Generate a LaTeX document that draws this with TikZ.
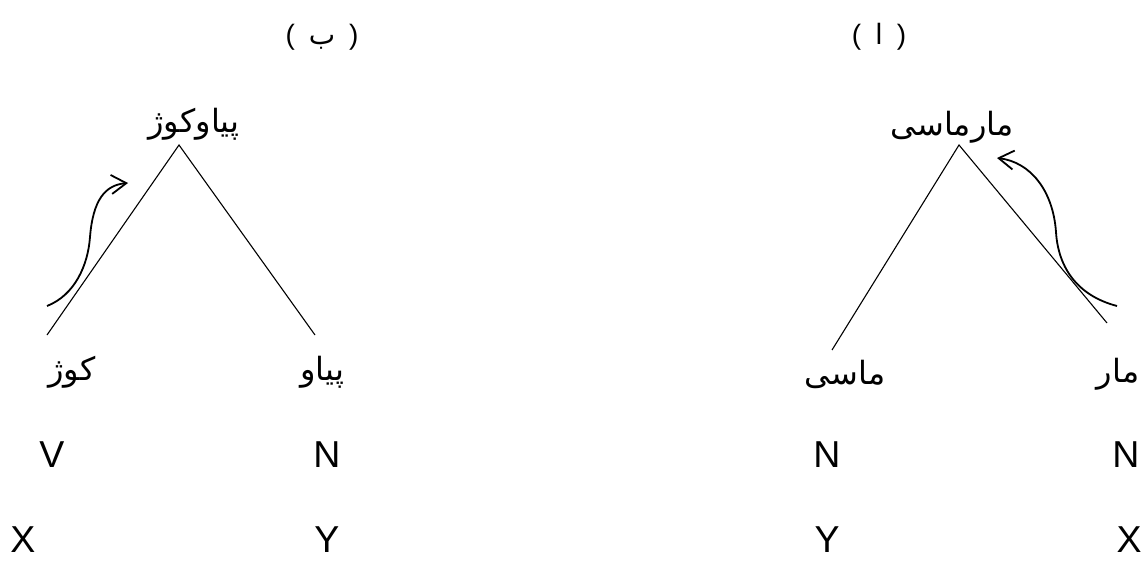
\documentclass[tikz,border=0pt]{standalone}
\usepackage{fontspec}
\setmainfont{Liberation Sans}
\newfontfamily\arabicfont[Script=Arabic]{DejaVu Sans}
\TeXXeTstate=1
\usetikzlibrary{arrows.meta}
\newcommand\rtltext[1]{\beginR #1\endR}
\tikzset{
  lat/.style={inner sep=0pt, font=\fontsize{37.5}{40}\selectfont},
  arw/.style={inner sep=0pt, font=\arabicfont\fontsize{32}{36}\selectfont},
  head/.style={inner sep=0pt, font=\fontsize{28}{32}\selectfont},
  branch/.style={line width=1.1pt},
  movearrow/.style={line width=1.8pt, -{Straight Barb[length=15pt,width=19pt,line width=1.8pt]}},
}
\begin{document}
\begin{tikzpicture}[x=1pt,y=-1pt]
\useasboundingbox (0,0) rectangle (1145,561);
% headings
\node[head] (hb) at (322,37) {(\hspace{0.5em}{\arabicfont ب}\hspace{0.5em})};
\node[head] (ha) at (879,37) {(\hspace{0.5em}{\arabicfont ا}\hspace{0.5em})};
% left tree (b)
\node[arw] (lroot) at (194,124) {\rtltext{پیاوکوژ}};
\coordinate (lapex) at (179,145);
\coordinate (lleft) at (47,335);
\coordinate (lright) at (315,335);
\draw[branch] (lleft) -- (lapex) -- (lright);
\node[arw] (lw1) at (72,372) {\rtltext{کوژ}};
\node[arw] (lw2) at (322,372) {\rtltext{پیاو}};
\node[lat] (lc1) at (52,455) {V};
\node[lat] (lc2) at (327,455) {N};
\node[lat] (lv1) at (23,540) {X};
\node[lat] (lv2) at (327,540) {Y};
\coordinate (ltail) at (47,306);
\coordinate (lmid) at (90,237);
\coordinate (ltip) at (128,183);
\draw[movearrow] (ltail) .. controls (75,295) and (88,265) .. (lmid)
  .. controls (93,200) and (105,185) .. (ltip);
% right tree (a)
\node[arw] (rroot) at (952,127) {\rtltext{مارماسی}};
\coordinate (rapex) at (959,145);
\coordinate (rleft) at (832,350);
\coordinate (rright) at (1107,323);
\draw[branch] (rleft) -- (rapex) -- (rright);
\node[arw] (rw1) at (845,374) {\rtltext{ماسی}};
\node[arw] (rw2) at (1118,374) {\rtltext{مار}};
\node[lat] (rc1) at (827,455) {N};
\node[lat] (rc2) at (1126,455) {N};
\node[lat] (rv1) at (827,540) {Y};
\node[lat] (rv2) at (1129,540) {X};
\coordinate (rtail) at (1117,306);
\coordinate (rmid) at (1056,232);
\coordinate (rtip) at (997,158);
\draw[movearrow] (rtail) .. controls (1075,295) and (1058,265) .. (rmid)
  .. controls (1053,190) and (1030,162) .. (rtip);
\end{tikzpicture}
\end{document}
